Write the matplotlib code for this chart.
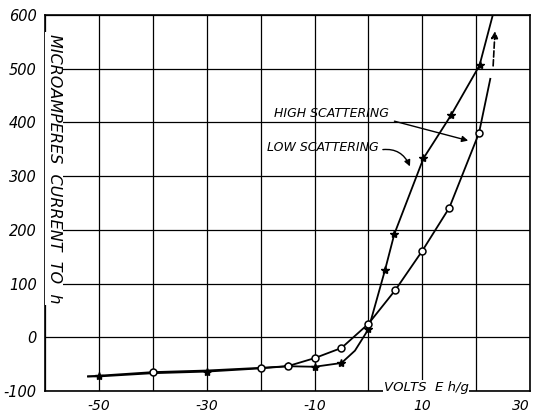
import matplotlib
matplotlib.use("Agg")
import matplotlib.pyplot as plt

# volts vs microamperes
high_v = [-50, -30, -15, -10, -5, 0, 3.1, 4.8, 10.2, 15.3, 20.6]
high_i = [-73, -64, -54, -55, -48, 15, 126, 192, 333, 413, 506]
low_v = [-40, -20, -15, -10, -5, 0, 5, 10, 15, 20.5]
low_i = [-65, -57, -54, -39, -20, 25, 88, 161, 241, 380]

# traces of the drawn curves (hand-drawn line through the points)
high_line_v = [-52, -50, -40, -30, -20, -15, -10, -5, -2.5, 0, 3.1, 4.8, 10.2, 15.3, 20.6, 23.2]
high_line_i = [-73, -73, -67, -64, -58, -54, -55, -48, -25, 15, 126, 192, 333, 413, 506, 605]
low_line_v = [-52, -40, -30, -20, -15, -10, -5, 0, 5, 10, 15, 20.5, 22.6]
low_line_i = [-73, -65, -62, -57, -54, -39, -20, 25, 88, 161, 241, 380, 481]

x_ticks = [-50, -30, -10, 10, 30]
y_ticks = [-100, 0, 100, 200, 300, 400, 500, 600]

hand = dict(family="DejaVu Sans", style="italic")

fig = plt.figure(figsize=(5.35, 4.15), dpi=100)
ax = fig.add_axes([0.084, 0.058, 0.907, 0.906])

ax.plot(high_line_v, high_line_i, color="black", lw=1.3)
ax.plot(low_line_v, low_line_i, color="black", lw=1.3)
ax.plot(high_v, high_i, ls="none", marker="*", ms=6, color="black")
ax.plot(low_v, low_i, ls="none", marker="o", ms=5, mfc="white", mec="black", mew=1.1)

ax.set_xlim(-60, 30)
ax.set_ylim(-100, 600)
ax.set_xticks(range(-60, 31, 10))
ax.set_yticks(y_ticks)
ax.set_xticklabels([str(t) if t in x_ticks else "" for t in range(-60, 31, 10)], fontsize=10, **hand)
ax.set_yticklabels([str(t) for t in y_ticks], fontsize=10.5, **hand)
ax.get_xticklabels()[-1].set_horizontalalignment("right")
ax.tick_params(length=0, pad=6)
ax.grid(True, color="black", lw=0.9)
for s in ax.spines.values():
    s.set_linewidth(1.2)

ax.text(-58.3, 565, "MICROAMPERES  CURRENT  TO  h", rotation=270, ha="center", va="top",
        fontsize=11.5, bbox=dict(facecolor="white", edgecolor="none", pad=1), **hand)
ax.text(2.8, -93, "VOLTS  E h/g", fontsize=9.5, ha="left", va="center",
        bbox=dict(facecolor="white", edgecolor="none", pad=0.5), **hand)

ax.annotate("HIGH SCATTERING", xy=(18.5, 366), xytext=(-17.5, 417),
            fontsize=9, ha="left", va="center", **hand,
            arrowprops=dict(arrowstyle="-|>", color="black", lw=1,
                            shrinkA=2, shrinkB=0, relpos=(1, 0)))
ax.annotate("LOW SCATTERING", xy=(7.7, 318), xytext=(-18.8, 353),
            fontsize=9, ha="left", va="center", **hand,
            arrowprops=dict(arrowstyle="-|>", color="black", lw=1,
                            shrinkA=1, shrinkB=0, relpos=(1, 0.3),
                            connectionstyle="arc3,rad=-0.4"))
ax.annotate("", xy=(23.5, 575), xytext=(23.1, 500),
            arrowprops=dict(arrowstyle="-|>", color="black", lw=1.2, ls="--"))

fig.savefig("out.png", dpi=100)
